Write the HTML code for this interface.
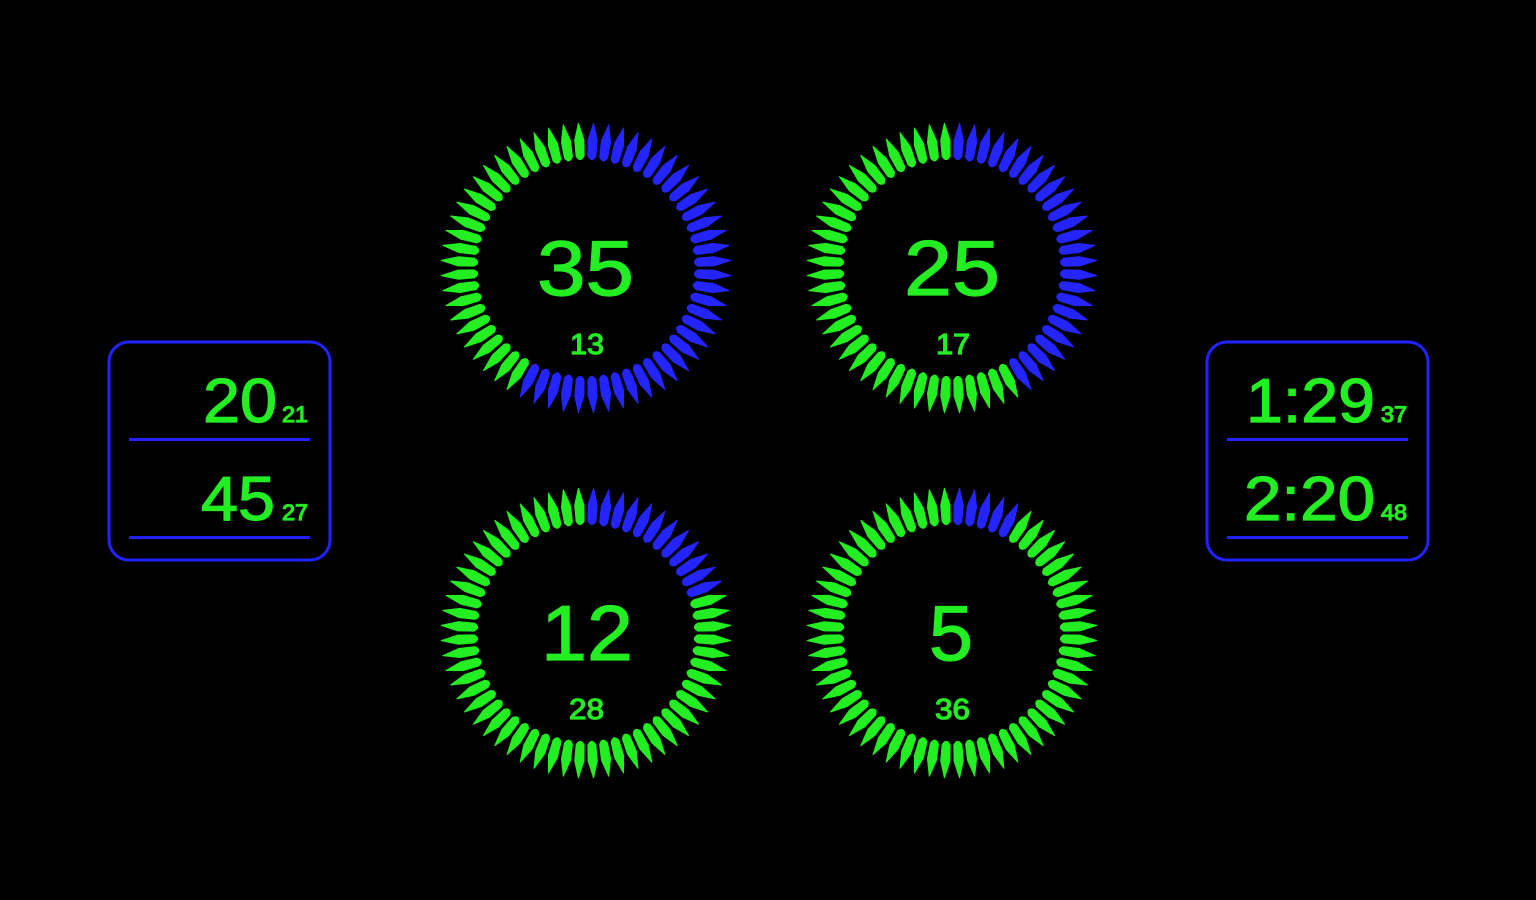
<!DOCTYPE html>
<html><head><meta charset="utf-8"><style>
html,body{margin:0;padding:0;background:#000;width:1536px;height:900px;overflow:hidden}
svg text{font-family:"Liberation Sans",sans-serif;fill:#22ee22;stroke:#22ee22;stroke-width:1.2}
</style></head><body>
<svg id="s" width="1536" height="900" viewBox="0 0 1536 900" xmlns="http://www.w3.org/2000/svg">
<rect x="109" y="342" width="221" height="218" rx="20" fill="none" stroke="#2222ff" stroke-width="3"/>
<line x1="129" y1="439.5" x2="310" y2="439.5" stroke="#2222ff" stroke-width="3"/>
<line x1="129" y1="537.5" x2="310" y2="537.5" stroke="#2222ff" stroke-width="3"/>
<text x="203" y="422" font-size="62" textLength="74" lengthAdjust="spacingAndGlyphs">20</text>
<text x="282" y="422" font-size="22" textLength="26" lengthAdjust="spacingAndGlyphs">21</text>
<text x="201" y="520" font-size="62" textLength="74" lengthAdjust="spacingAndGlyphs">45</text>
<text x="282" y="520" font-size="22" textLength="26" lengthAdjust="spacingAndGlyphs">27</text>

<rect x="1207" y="342" width="221" height="218" rx="20" fill="none" stroke="#2222ff" stroke-width="3"/>
<line x1="1227" y1="439.5" x2="1408" y2="439.5" stroke="#2222ff" stroke-width="3"/>
<line x1="1227" y1="537.5" x2="1408" y2="537.5" stroke="#2222ff" stroke-width="3"/>
<text x="1246" y="422" font-size="62" textLength="129" lengthAdjust="spacingAndGlyphs">1:29</text>
<text x="1381" y="422" font-size="22" textLength="26" lengthAdjust="spacingAndGlyphs">37</text>
<text x="1244" y="520" font-size="62" textLength="131" lengthAdjust="spacingAndGlyphs">2:20</text>
<text x="1381" y="520" font-size="22" textLength="26" lengthAdjust="spacingAndGlyphs">48</text>

<g id="g"></g>
<text x="537" y="295" font-size="78" textLength="97" lengthAdjust="spacingAndGlyphs">35</text>
<text x="570" y="354" font-size="29" textLength="34" lengthAdjust="spacingAndGlyphs">13</text>
<text x="904" y="295" font-size="78" textLength="96" lengthAdjust="spacingAndGlyphs">25</text>
<text x="936" y="354" font-size="29" textLength="34" lengthAdjust="spacingAndGlyphs">17</text>
<text x="541" y="660" font-size="78" textLength="92" lengthAdjust="spacingAndGlyphs">12</text>
<text x="569" y="719" font-size="29" textLength="35" lengthAdjust="spacingAndGlyphs">28</text>
<text x="929" y="660" font-size="78" textLength="44" lengthAdjust="spacingAndGlyphs">5</text>
<text x="935" y="719" font-size="29" textLength="35" lengthAdjust="spacingAndGlyphs">36</text>
</svg>
<script>
var g=document.getElementById('g'),h='';
var G=[[586,268,35],[952,268,25],[586,633,12],[952,633,5]];
G.forEach(function(c){
 for(var i=0;i<60;i++){
  var col=i<c[2]?'#2424ff':'#22ee22';
  var a=(i+0.5)*6;
  h+='<path transform="translate('+c[0]+','+c[1]+') rotate('+a+')" d="M0,-145 L4.6,-128 L4,-112 Q0,-105 -4,-112 L-4.6,-128 Z" fill="'+col+'" stroke="'+col+'" stroke-width="1" stroke-linejoin="round"/>';
 }
});
g.innerHTML=h;
</script>
</body></html>
